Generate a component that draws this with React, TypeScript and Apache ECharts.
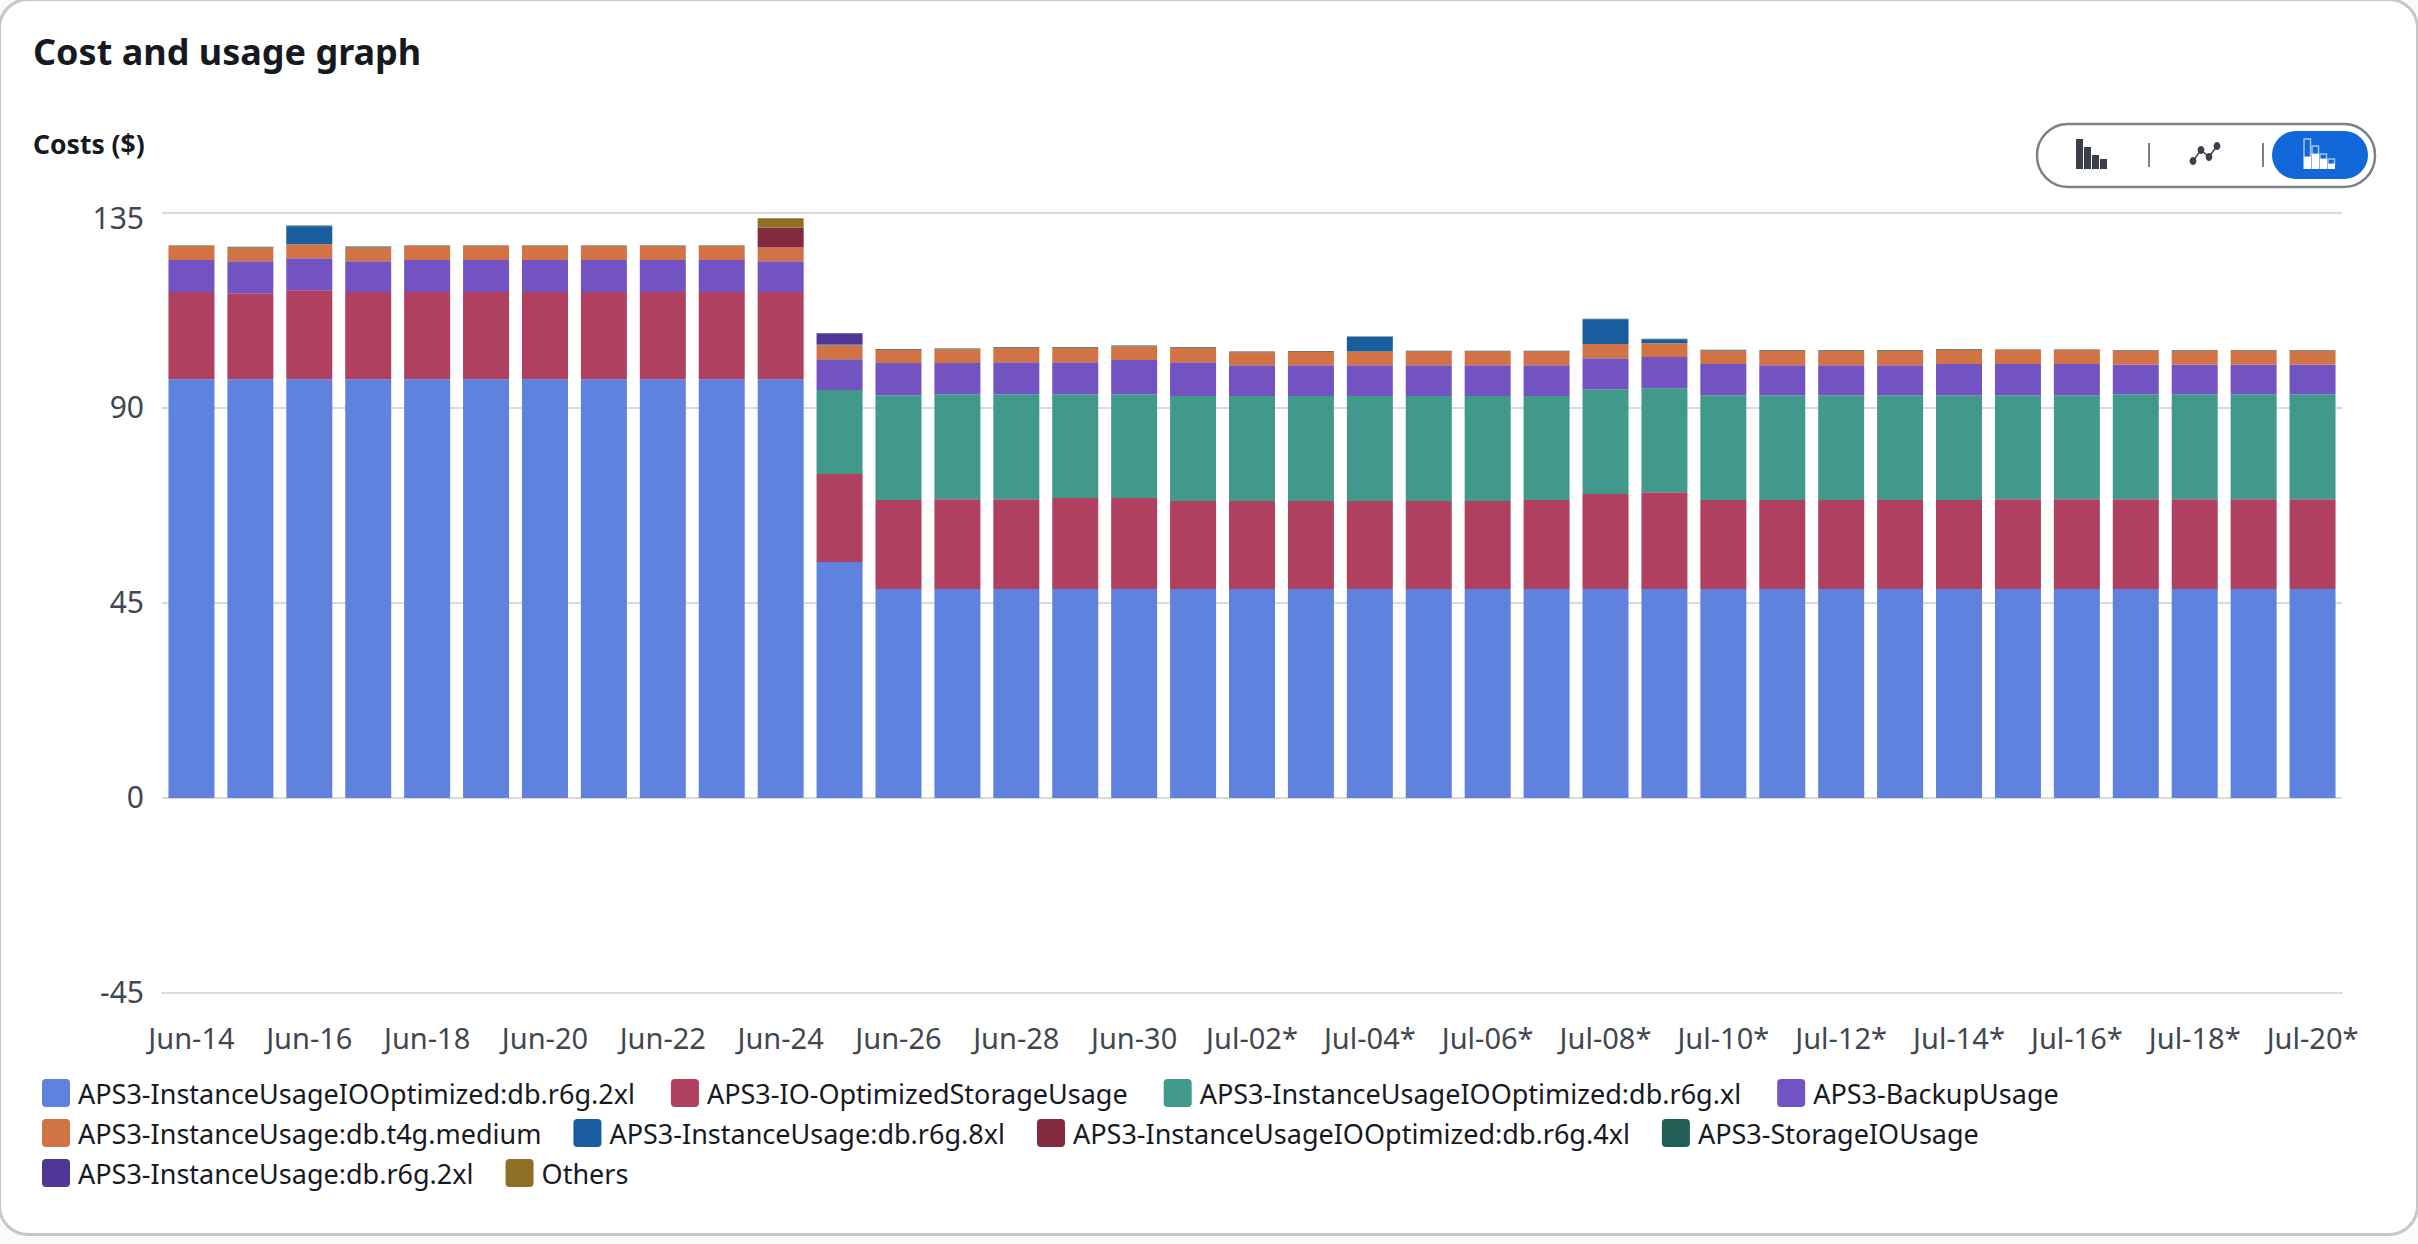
import React, { useEffect, useRef } from "react";
import * as echarts from "echarts";

const dates = ["Jun-14","Jun-15","Jun-16","Jun-17","Jun-18","Jun-19","Jun-20","Jun-21","Jun-22","Jun-23","Jun-24","Jun-25","Jun-26","Jun-27","Jun-28","Jun-29","Jun-30","Jul-01*","Jul-02*","Jul-03*","Jul-04*","Jul-05*","Jul-06*","Jul-07*","Jul-08*","Jul-09*","Jul-10*","Jul-11*","Jul-12*","Jul-13*","Jul-14*","Jul-15*","Jul-16*","Jul-17*","Jul-18*","Jul-19*","Jul-20*"];

const r6g2xlIO = [96.6,96.6,96.6,96.6,96.6,96.6,96.6,96.6,96.6,96.6,96.6,54.4,48.2,48.2,48.2,48.2,48.2,48.2,48.2,48.2,48.2,48.2,48.2,48.2,48.2,48.2,48.2,48.2,48.2,48.2,48.2,48.2,48.2,48.2,48.2,48.2,48.2];
const storage = [20.1,19.8,20.5,20.1,20.1,20.1,20.1,20.1,20.1,20.1,20.1,20.3,20.5,20.7,20.7,21.0,21.0,20.3,20.3,20.3,20.3,20.3,20.3,20.5,21.9,22.3,20.5,20.5,20.5,20.5,20.5,20.7,20.7,20.7,20.7,20.7,20.7];
const r6gxlIO = [0,0,0,0,0,0,0,0,0,0,0,19.4,24.2,24.2,24.2,23.9,23.9,24.2,24.2,24.2,24.2,24.2,24.2,24.0,24.2,24.0,24.2,24.2,24.2,24.2,24.2,24.0,24.0,24.2,24.2,24.2,24.2];
const backup = [7.4,7.4,7.4,7.1,7.4,7.4,7.4,7.4,7.4,7.4,7.1,7.1,7.4,7.2,7.4,7.4,7.9,7.8,7.1,7.1,7.1,7.1,7.1,7.1,7.1,7.2,7.2,6.9,6.9,6.9,7.2,7.2,7.2,6.9,6.9,6.9,6.9];
const t4gMedium = [3.2,3.2,3.2,3.2,3.2,3.2,3.2,3.2,3.2,3.2,3.2,3.2,3.1,3.2,3.3,3.3,3.2,3.3,3.0,3.1,3.2,3.2,3.2,3.2,3.3,3.2,3.1,3.3,3.3,3.3,3.2,3.2,3.2,3.2,3.2,3.2,3.2];
const r6g8xl = [0,0,4.2,0,0,0,0,0,0,0,0,0,0,0,0,0,0,0,0,0,3.3,0,0,0,5.7,0.9,0,0,0,0,0,0,0,0,0,0,0];
const r6g4xlIO = [0,0,0,0,0,0,0,0,0,0,4.6,0,0,0,0,0,0,0,0,0,0,0,0,0,0,0,0,0,0,0,0,0,0,0,0,0,0];
const storageIO = [0.15,0.15,0.15,0.2,0.15,0.15,0.15,0.15,0.15,0.15,0,0.2,0.15,0.15,0.15,0.15,0.15,0.15,0.2,0.2,0.15,0.15,0.15,0.15,0.15,0.15,0.2,0.15,0.15,0.15,0.2,0.15,0.15,0.15,0.15,0.15,0.15];
const r6g2xl = [0,0,0,0,0,0,0,0,0,0,0,2.6,0,0,0,0,0,0,0,0,0,0,0,0,0,0,0,0,0,0,0,0,0,0,0,0,0];
const others = [0,0,0,0,0,0,0,0,0,0,2.1,0,0,0,0,0,0,0,0,0,0,0,0,0,0,0,0,0,0,0,0,0,0,0,0,0,0];

const seriesNames = ["APS3-InstanceUsageIOOptimized:db.r6g.2xl","APS3-IO-OptimizedStorageUsage","APS3-InstanceUsageIOOptimized:db.r6g.xl","APS3-BackupUsage","APS3-InstanceUsage:db.t4g.medium","APS3-InstanceUsage:db.r6g.8xl","APS3-InstanceUsageIOOptimized:db.r6g.4xl","APS3-StorageIOUsage","APS3-InstanceUsage:db.r6g.2xl","Others"];
const seriesValues = [r6g2xlIO,storage,r6gxlIO,backup,t4gMedium,r6g8xl,r6g4xlIO,storageIO,r6g2xl,others];
const seriesColors = ["#5e82de","#b0405f","#41998c","#7353c2","#d17345","#185d9d","#832940","#235f57","#513698","#8e6f24"];

const FONT = "'Noto Sans', sans-serif";
const INK = "#16191f";
const AXIS_TEXT = "#414750";
const GRID = "#d9d9de";

const legendRow = (names: string[], top: number, itemGap: number) => ({
  data: names, left: 42, top, orient: "horizontal" as const, itemWidth: 28, itemHeight: 28, itemGap, padding: 0,
  icon: "path://M4,0H24A4,4 0 0 1 28,4V24A4,4 0 0 1 24,28H4A4,4 0 0 1 0,24V4A4,4 0 0 1 4,0Z",
  selectedMode: false,
  textStyle: { fontFamily: FONT, fontSize: 27, color: INK, padding: [0, 0, 0, 3] },
});

const graphics = () => {
  const items: any[] = [];
  items.push({ type: "rect", shape: { x: 2037, y: 124, width: 338, height: 63, r: 31 }, style: { fill: "#fff", stroke: "#7d8088", lineWidth: 2.5 } });
  items.push({ type: "rect", shape: { x: 2272, y: 131, width: 96, height: 48, r: 24 }, style: { fill: "#1166d9" } });
  items.push({ type: "line", shape: { x1: 2149, y1: 143, x2: 2149, y2: 167 }, style: { stroke: "#7d8088", lineWidth: 2 } });
  items.push({ type: "line", shape: { x1: 2263, y1: 143, x2: 2263, y2: 167 }, style: { stroke: "#7d8088", lineWidth: 2 } });
  [[2076, 139], [2084, 147], [2092, 155], [2100, 159]].forEach(([x, y]) =>
    items.push({ type: "rect", shape: { x, y, width: 7, height: 169 - y }, style: { fill: "#3a3f4b" } }));
  const pts = [[2193, 161], [2201, 150], [2209, 157], [2217, 146]];
  items.push({ type: "polyline", shape: { points: pts }, style: { stroke: "#3a3f4b", lineWidth: 1.5, fill: "none" } });
  pts.forEach(([x, y]) => items.push({ type: "ellipse", shape: { cx: x, cy: y, rx: 3.4, ry: 4 }, style: { fill: "#3a3f4b" } }));
  [[2304, 139, 157], [2312, 146, 154], [2320, 154, 159], [2328, 159, 164]].forEach(([x, t, s]) => {
    items.push({ type: "rect", shape: { x, y: t, width: 6.5, height: s - t }, style: { fill: "none", stroke: "#9fc3f5", lineWidth: 1.5 } });
    items.push({ type: "rect", shape: { x: x - 0.5, y: s, width: 7.5, height: 169 - s }, style: { fill: "#fff" } });
  });
  return items;
};

export default function App() {
  const ref = useRef<HTMLDivElement>(null);
  useEffect(() => {
    document.body.style.margin = "0";
    document.body.style.background = "#fafafa";
    const chart = echarts.init(ref.current!, undefined, { renderer: "svg" });
    const yText = { fontFamily: FONT, fontSize: 30, color: AXIS_TEXT };
    chart.setOption({
      animation: false,
      title: [
        { text: "Cost and usage graph", left: 33, top: 33, padding: 0, textStyle: { fontFamily: FONT, fontSize: 36, fontWeight: 700, color: INK } },
        { text: "Costs ($)", left: 33, top: 130, padding: 0, textStyle: { fontFamily: FONT, fontSize: 26.5, fontWeight: 700, color: INK } },
      ],
      grid: { left: 162, right: 76, top: 212.7, bottom: 251, containLabel: false },
      legend: [
        legendRow(seriesNames.slice(0, 4), 1079, 36),
        legendRow(seriesNames.slice(4, 8), 1119, 32),
        legendRow(seriesNames.slice(8), 1159, 32),
      ],
      xAxis: {
        type: "category", data: dates, axisLine: { onZero: false, lineStyle: { color: GRID, width: 2 } },
        axisTick: { alignWithLabel: true, interval: 1, length: 12, lineStyle: { color: GRID, width: 2 } },
        axisLabel: { interval: 1, margin: 30, fontFamily: FONT, fontSize: 29, color: AXIS_TEXT },
      },
      yAxis: {
        type: "value", min: -45, max: 135, interval: 45,
        axisLine: { show: false }, axisTick: { show: false },
        axisLabel: {
          margin: 18, ...yText,
          formatter: (v: number) => (v === 135 ? `{t|${v}}` : `{v|${v}}`),
          rich: { t: { ...yText, padding: [9, 0, 0, 0] }, v: { ...yText, padding: [0, 0, 3, 0] } },
        },
        splitLine: { lineStyle: { color: GRID, width: 2 } },
      },
      series: seriesNames.map((name, i) => ({
        name, type: "bar", stack: "total", barWidth: 46, data: seriesValues[i],
        itemStyle: { color: seriesColors[i] },
      })),
      graphic: graphics(),
    });
    return () => chart.dispose();
  }, []);
  return (
    <div style={{ position: "absolute", left: 0, top: 0, width: 2418, height: 1244, overflow: "hidden" }}>
      <div style={{ position: "absolute", left: -2, top: -2, width: 2415, height: 1232, background: "#fff", border: "3px solid #c6c6cd", borderRadius: 30 }} />
      <div ref={ref} style={{ position: "absolute", left: 0, top: 0, width: 2418, height: 1244 }} />
    </div>
  );
}
